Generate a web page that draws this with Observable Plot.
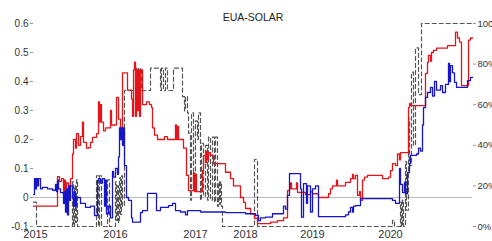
<!DOCTYPE html>
<html><head><meta charset="utf-8">
<script src="https://cdn.jsdelivr.net/npm/d3@7"></script>
<script src="https://cdn.jsdelivr.net/npm/@observablehq/plot@0.6"></script>
<style>html,body{margin:0;padding:0;background:#fff;} svg{display:block;}</style>
</head><body><div id="chart"></div>
<script>
const title = "EUA-SOLAR";
const yearLabels = ["2015","2016","2017","2018","2019","2020"];
const yearIndex = [2, 82, 162, 212, 279, 357];
const leftTicks = [-0.1, 0, 0.1, 0.2, 0.3, 0.4, 0.5, 0.6];
const rightTicks = [0, 20, 40, 60, 80, 100];

// [observation index, value]
const red = [[0,-0.03],[24,0.072],[26,0.055],[28,0.065],[30,0.01],[31,0.06],[32,0.0],[33,0.05],[35,-0.005],[36,0.04],[37,0.065],[39,0.15],[40,0.2],[42,0.17],[43,0.22],[45,0.18],[47,0.21],[49,0.26],[50,0.19],[53,0.17],[55,0.172],[57,0.19],[59,0.207],[63,0.22],[65,0.33],[66,0.26],[67,0.32],[68,0.26],[70,0.23],[72,0.24],[77,0.3],[78,0.25],[80,0.25],[83,0.345],[85,0.27],[87,0.24],[89,0.43],[94,0.37],[98,0.34],[99,0.28],[100,0.44],[101,0.467],[102,0.28],[103,0.44],[104,0.3],[105,0.44],[106,0.28],[107,0.44],[109,0.32],[113,0.33],[116,0.32],[118,0.31],[119,0.24],[121,0.215],[124,0.2],[131,0.21],[134,0.2],[142,0.25],[143,0.2],[144,0.245],[145,0.2],[150,0.17],[153,0.076],[155,0.024],[160,0.085],[161,0.02],[162,0.08],[163,0.02],[169,0.093],[170,0.145],[172,0.12],[173,0.16],[174,0.13],[175,0.155],[177,0.145],[180,0.117],[192,0.087],[197,0.065],[200,0.04],[207,0.0],[210,-0.017],[212,-0.038],[217,-0.056],[221,-0.072],[224,-0.09],[237,-0.085],[244,-0.08],[250,-0.07],[254,0.024],[256,0.03],[257,0.05],[258,0.03],[263,0.05],[264,0.018],[272,0.01],[277,0.02],[279,0.013],[285,0.0],[295,0.013],[297,0.03],[299,0.04],[303,0.06],[304,0.04],[312,0.052],[317,0.065],[319,0.08],[320,0.065],[322,0.076],[324,0.007],[326,0.02],[327,-0.01],[329,0.06],[331,0.07],[334,0.076],[349,0.065],[355,0.07],[357,0.093],[359,0.117],[362,0.11],[364,0.15],[366,0.13],[367,0.155],[375,0.31],[376,0.324],[377,0.317],[392,0.428],[394,0.466],[395,0.49],[397,0.47],[398,0.5],[400,0.507],[403,0.515],[414,0.524],[422,0.57],[424,0.55],[426,0.536],[428,0.386],[435,0.543],[437,0.55],[439,0.55]];

const blue = [[0,0.01],[1,0.065],[2,0.03],[3,0.065],[4,0.04],[5,0.065],[7,0.03],[9,0.035],[14,0.03],[19,0.025],[22,0.045],[23,0.02],[24,0.06],[25,0.03],[27,0.017],[30,-0.02],[31,0.02],[32,-0.05],[33,0.03],[34,-0.06],[35,0.04],[36,-0.01],[37,0.04],[39,0.0],[40,-0.03],[41,0.02],[42,-0.03],[43,0.0],[47,-0.02],[52,-0.034],[57,-0.03],[61,-0.062],[64,0.058],[65,0.065],[67,0.05],[69,0.065],[71,-0.03],[72,0.06],[73,-0.056],[75,-0.03],[77,-0.07],[79,0.09],[80,0.07],[82,0.1],[84,0.08],[85,0.14],[86,0.24],[87,0.2],[88,0.24],[89,0.18],[90,0.24],[91,0.11],[93,0.0],[95,-0.01],[98,-0.07],[99,-0.085],[107,-0.052],[109,-0.045],[114,0.014],[123,-0.045],[127,-0.034],[135,-0.028],[139,-0.02],[142,-0.045],[147,-0.05],[152,-0.06],[154,-0.045],[167,-0.05],[192,-0.052],[212,-0.056],[222,-0.062],[225,-0.08],[227,-0.07],[232,-0.068],[239,-0.056],[250,-0.03],[252,-0.04],[254,0.007],[256,0.082],[267,0.03],[268,-0.068],[270,0.048],[273,-0.02],[274,0.04],[277,-0.05],[279,0.03],[282,0.04],[285,-0.066],[312,-0.06],[315,-0.05],[317,-0.034],[319,-0.05],[320,-0.03],[322,-0.028],[327,-0.004],[359,-0.01],[362,-0.02],[366,0.1],[367,0.045],[369,0.017],[371,0.052],[372,0.013],[374,0.086],[376,0.117],[377,0.145],[383,0.15],[385,0.17],[387,0.16],[389,0.25],[390,0.31],[392,0.345],[394,0.362],[397,0.38],[399,0.35],[401,0.4],[403,0.37],[407,0.386],[409,0.362],[412,0.39],[415,0.462],[416,0.4],[417,0.455],[419,0.43],[421,0.397],[423,0.38],[434,0.403],[437,0.414],[439,0.414]];

// [observation index, percent]
const prob = [[0,12],[3,0],[39,22],[40,0],[41,20],[42,2],[43,23],[44,0],[63,25],[65,0],[66,25],[68,0],[74,23],[76,0],[82,22],[83,3],[84,20],[85,2],[86,24],[87,6],[88,25],[89,10],[91,67],[102,78],[103,67],[104,78],[105,67],[107,78],[108,67],[117,78],[127,67],[128,78],[130,67],[132,78],[134,67],[140,78],[149,64],[151,57],[152,64],[154,56],[155,46],[157,13],[158,56],[160,20],[162,52],[164,43],[165,56],[167,13],[168,41],[170,15],[172,40],[174,13],[175,44],[177,13],[179,44],[181,12],[182,44],[184,10],[185,22],[186,11],[187,22],[188,10],[189,0],[221,33],[224,0],[359,3],[361,0],[367,12],[368,0],[369,13],[370,0],[372,32],[373,8],[375,53],[376,30],[378,76],[380,40],[382,88],[385,65],[388,100],[439,100]];

const toLeft = p => -0.1 + 0.7 * p / 100;

const chart = Plot.plot({
  width: 492, height: 241,
  marginTop: 23, marginBottom: 15, marginLeft: 33, marginRight: 20,
  style: {fontFamily: "'Liberation Sans', Arial, sans-serif", fontSize: "10px", color: "#333", background: "#fff"},
  x: {domain: [0, 439], axis: null},
  y: {domain: [-0.1, 0.6], axis: null},
  marks: [
    Plot.ruleY([0], {stroke: "#bbb", strokeWidth: 1}),
    Plot.line(prob, {x: d => d[0], y: d => toLeft(d[1]), curve: "step-after", stroke: "#555", strokeDasharray: "4,3", strokeWidth: 1.2}),
    Plot.line(red, {x: d => d[0], y: d => d[1], curve: "step-after", stroke: "#e5141a", strokeWidth: 1.3}),
    Plot.line(blue, {x: d => d[0], y: d => d[1], curve: "step-after", stroke: "#1616c8", strokeWidth: 1.3}),
    Plot.axisY(leftTicks, {anchor: "left", tickSize: 3, tickPadding: 2, stroke: "#999", tickFormat: d => d === 0 ? "0" : d.toFixed(1)}),
    Plot.axisY(rightTicks.map(toLeft), {anchor: "right", tickSize: 3, tickPadding: 2, fontSize: 9.5, stroke: "#999", tickFormat: v => Math.round((v + 0.1) / 0.007) + "%"}),
    Plot.axisX(yearIndex, {anchor: "bottom", tickSize: 0, tickPadding: 4, fontSize: 11, tickFormat: d => yearLabels[yearIndex.indexOf(d)]}),
    Plot.text([title], {frameAnchor: "top", dy: -10, fontSize: 10.5, fill: "#222"})
  ]
});
document.getElementById("chart").appendChild(chart);
</script>
</body></html>
